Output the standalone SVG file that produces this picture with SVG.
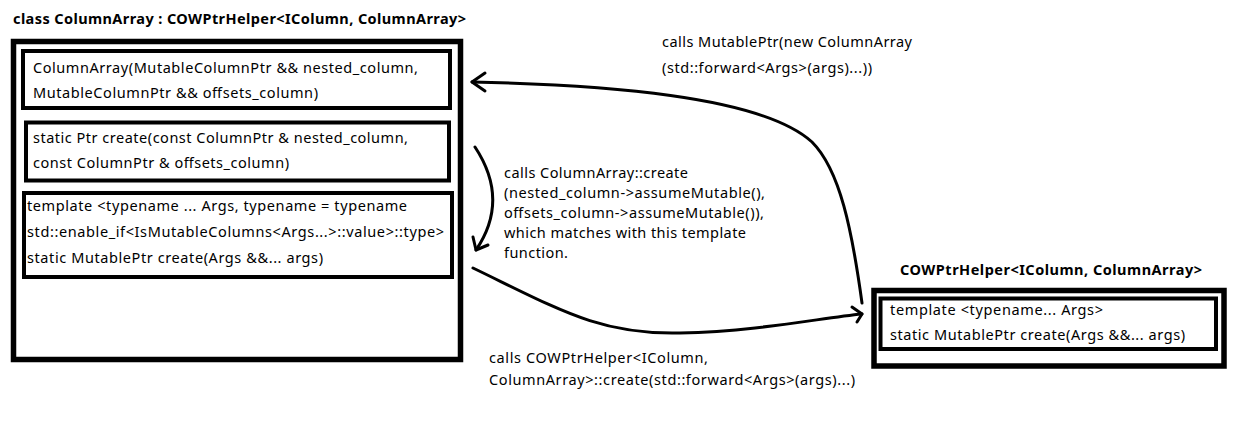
<svg xmlns="http://www.w3.org/2000/svg" width="1237" height="423" viewBox="0 0 1237 423">
<defs>
<style>
.t{font-family:"Noto Sans","Open Sans","DejaVu Sans",sans-serif;font-size:14.5px;fill:#000}
.b{font-family:"Noto Sans","Open Sans","DejaVu Sans",sans-serif;font-size:14.5px;font-weight:bold;fill:#000}
.outer{fill:#fff;stroke:#000;stroke-width:5.5}
.inner{fill:#fff;stroke:#000;stroke-width:4}
.con{fill:none;stroke:#000;stroke-width:3;stroke-linecap:round;stroke-linejoin:round}
</style>
</defs>
<rect width="1237" height="423" fill="#fff"/>
<g id="columnArray">
<text class="b" x="13" y="24" textLength="453">class ColumnArray : COWPtrHelper&lt;IColumn, ColumnArray&gt;</text>
<rect class="outer" x="13.5" y="41.5" width="447" height="318"/>
</g>
<g id="ctor">
<rect class="inner" x="23" y="51" width="427" height="57"/>
<text class="t" x="33" y="73" textLength="385">ColumnArray(MutableColumnPtr &amp;&amp; nested_column,</text>
<text class="t" x="33" y="98" textLength="285">MutableColumnPtr &amp;&amp; offsets_column)</text>
</g>
<g id="createPtr">
<rect class="inner" x="26" y="122.5" width="423" height="58"/>
<text class="t" x="33" y="143" textLength="375">static Ptr create(const ColumnPtr &amp; nested_column,</text>
<text class="t" x="33" y="168" textLength="256">const ColumnPtr &amp; offsets_column)</text>
</g>
<g id="createTemplate">
<rect class="inner" x="24" y="193" width="428" height="84"/>
<text class="t" x="27" y="211" textLength="380">template &lt;typename ... Args, typename = typename</text>
<text class="t" x="27" y="237" textLength="417">std::enable_if&lt;IsMutableColumns&lt;Args...&gt;::value&gt;::type&gt;</text>
<text class="t" x="27" y="263" textLength="296">static MutablePtr create(Args &amp;&amp;... args)</text>
</g>
<g id="cowPtrHelper">
<text class="b" x="900" y="275" textLength="302">COWPtrHelper&lt;IColumn, ColumnArray&gt;</text>
<rect class="outer" x="874" y="290.5" width="350" height="75.5"/>
<rect class="inner" x="880.5" y="298.5" width="335.5" height="50.5"/>
<text class="t" x="890" y="315" textLength="213">template &lt;typename... Args&gt;</text>
<text class="t" x="890" y="340" textLength="295">static MutablePtr create(Args &amp;&amp;... args)</text>
</g>
<g id="connectors">
<path class="con" d="M862,303 C852,230 840,170 812,142 C760,95 600,85 472,82"/>
<path class="con" d="M485,73 L472,82 L485,91"/>
<path class="con" d="M475,147 Q510,200 476,250"/>
<path class="con" d="M473,237 L476,250 L488,245"/>
<path class="con" d="M473,268 C560,310 600,335 680,333 C760,331 820,318 862,314"/>
<path class="con" d="M852,307 L862,314 L857,322"/>
</g>
<g id="labels">
<text class="t" x="662" y="47" textLength="250">calls MutablePtr(new ColumnArray</text>
<text class="t" x="662" y="73" textLength="210">(std::forward&lt;Args&gt;(args)...))</text>
<text class="t" x="504" y="178" textLength="184">calls ColumnArray::create</text>
<text class="t" x="504" y="198" textLength="261">(nested_column-&gt;assumeMutable(),</text>
<text class="t" x="504" y="218" textLength="260">offsets_column-&gt;assumeMutable()),</text>
<text class="t" x="504" y="238" textLength="242">which matches with this template</text>
<text class="t" x="504" y="258" textLength="64">function.</text>
<text class="t" x="489" y="363" textLength="219">calls COWPtrHelper&lt;IColumn,</text>
<text class="t" x="489" y="385" textLength="366">ColumnArray&gt;::create(std::forward&lt;Args&gt;(args)...)</text>
</g>
</svg>
